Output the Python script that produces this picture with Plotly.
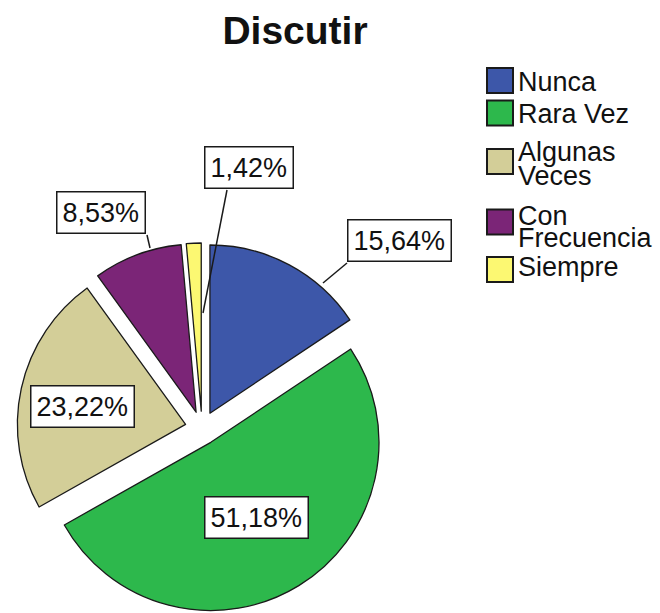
import plotly.graph_objects as go

# ---------------- data ----------------
categories = ["Nunca", "Rara Vez", "Algunas Veces", "Con Frecuencia", "Siempre"]
percentages = [15.64, 51.18, 23.22, 8.53, 1.42]
legend_lines = [["Nunca"], ["Rara Vez"], ["Algunas", "Veces"], ["Con", "Frecuencia"], ["Siempre"]]
title_text = "Discutir"

# ---------------- style ----------------
colors = ["#3D57A9", "#2DB84C", "#D3CE98", "#7B2577", "#FCF872"]
W, H = 660, 613
FONT = "Liberation Sans, Arial, sans-serif"


def px(x):
    return x / W


def py(y):
    return 1 - y / H


# pie placement (pixels): centre and outer extent incl. pull
CX, CY, EXT = 202, 428, 185
PULL = 0.1

# label boxes: centre (px) and optional leader line (box end -> slice end)
label_layout = [
    dict(c=(399.5, 240.5), lead=((347, 263), (323, 283))),
    dict(c=(256, 517), lead=None),
    dict(c=(82.5, 406.5), lead=None),
    dict(c=(101, 212.5), lead=((147, 235), (150, 248))),
    dict(c=(249, 167.5), lead=((227, 190), (203, 313))),
]

# legend layout: square centre y and text line centre ys (px)
legend_layout = [
    dict(sq=80.5, lines=[82]),
    dict(sq=113, lines=[113.5]),
    dict(sq=161.5, lines=[152, 176]),
    dict(sq=222, lines=[216, 238]),
    dict(sq=269.5, lines=[267]),
]
SQ_X0, SQ_X1, SQ_H = 487, 513, 25
TXT_X = 516

fig = go.Figure()
fig.add_trace(go.Pie(
    labels=categories,
    values=percentages,
    sort=False,
    direction="clockwise",
    rotation=0,
    pull=[PULL] * len(categories),
    marker=dict(colors=colors, line=dict(color="#1a1a1a", width=1.3)),
    textinfo="none",
    hoverinfo="label+percent",
    showlegend=False,
    domain=dict(x=[px(CX - EXT), px(CX + EXT)], y=[max(0, py(CY + EXT)), py(CY - EXT)]),
))

shapes = []
annotations = []

# value labels
for val, lay in zip(percentages, label_layout):
    if lay["lead"] is not None:
        (x0, y0), (x1, y1) = lay["lead"]
        shapes.append(dict(type="line", xref="paper", yref="paper",
                           x0=px(x0), y0=py(y0), x1=px(x1), y1=py(y1),
                           line=dict(color="#1a1a1a", width=1.5)))
    annotations.append(dict(
        xref="paper", yref="paper", x=px(lay["c"][0]), y=py(lay["c"][1]),
        xanchor="center", yanchor="middle", showarrow=False,
        text=f"{val:.2f}%".replace(".", ","),
        font=dict(family=FONT, size=27, color="#111111"),
        bgcolor="white", bordercolor="#1a1a1a", borderwidth=1.5, borderpad=5,
    ))

# manual legend
for col, lines, lay in zip(colors, legend_lines, legend_layout):
    shapes.append(dict(type="rect", xref="paper", yref="paper",
                       x0=px(SQ_X0), x1=px(SQ_X1),
                       y0=py(lay["sq"] + SQ_H / 2), y1=py(lay["sq"] - SQ_H / 2),
                       fillcolor=col, line=dict(color="#1a1a1a", width=2)))
    for txt, ly in zip(lines, lay["lines"]):
        annotations.append(dict(
            xref="paper", yref="paper", x=px(TXT_X), y=py(ly),
            xanchor="left", yanchor="middle", showarrow=False, text=txt,
            font=dict(family=FONT, size=27, color="#111111"),
        ))

fig.update_layout(
    width=W, height=H,
    margin=dict(l=0, r=0, t=0, b=0),
    paper_bgcolor="white", plot_bgcolor="white",
    title=dict(text=f"<b>{title_text}</b>", x=px(295), xref="paper", xanchor="center",
               y=py(30), yref="container", yanchor="middle",
               font=dict(family=FONT, size=39, color="#111111")),
    shapes=shapes,
    annotations=annotations,
)

fig.write_html("out.html",
               config={"displayModeBar": False},
               post_script="document.body.style.margin='0';document.body.style.padding='0';")
